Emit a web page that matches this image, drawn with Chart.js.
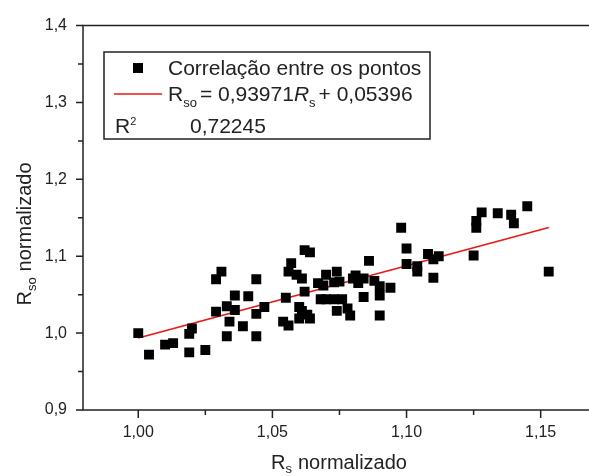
<!DOCTYPE html>
<html>
<head>
<meta charset="utf-8">
<script src="https://cdn.jsdelivr.net/npm/chart.js@4.4.1/dist/chart.umd.min.js"></script>
<style>
    body { margin: 0; background: #fff; }
    #chart { display: block; }
</style>
</head>
<body>
<canvas id="chart" width="589" height="476"></canvas>
<script>
// Rs normalizado vs Rso normalizado
const rsValues = [
    1.000, 1.004, 1.010, 1.013, 1.019, 1.020, 1.019, 1.025, 1.029, 1.031,
    1.029, 1.033, 1.033, 1.034, 1.036, 1.036, 1.039, 1.041, 1.044, 1.044,
    1.044, 1.047, 1.054, 1.056, 1.055, 1.056, 1.057, 1.059, 1.061, 1.062,
    1.064, 1.062, 1.060, 1.061, 1.063, 1.064, 1.060, 1.067, 1.069, 1.070,
    1.068, 1.070, 1.073, 1.074, 1.075, 1.074, 1.080, 1.081, 1.082, 1.084,
    1.088, 1.086, 1.090, 1.090, 1.094, 1.084, 1.076, 1.073, 1.078, 1.079,
    1.090, 1.098, 1.100, 1.100, 1.104, 1.108, 1.110, 1.104, 1.110, 1.112,
    1.125, 1.126, 1.128, 1.126, 1.134, 1.139, 1.140, 1.145, 1.153
];
const rsoValues = [
    1.000, 0.972, 0.985, 0.987, 0.999, 1.006, 0.975, 0.978, 1.070, 1.080,
    1.028, 0.996, 1.035, 1.015, 1.049, 1.030, 1.009, 1.048, 1.070, 1.025,
    0.996, 1.034, 1.015, 1.010, 1.046, 1.080, 1.091, 1.076, 1.071, 1.108,
    1.105, 1.054, 1.034, 1.029, 1.024, 1.019, 1.019, 1.065, 1.062, 1.076,
    1.044, 1.044, 1.066, 1.029, 1.067, 1.080, 1.071, 1.075, 1.065, 1.071,
    1.068, 1.094, 1.061, 1.049, 1.059, 1.047, 1.044, 1.044, 1.032, 1.023,
    1.023, 1.137, 1.110, 1.090, 1.087, 1.103, 1.096, 1.080, 1.072, 1.100,
    1.101, 1.146, 1.157, 1.137, 1.156, 1.154, 1.143, 1.165, 1.080
];

// Linear fit: Rso = 0,93971 Rs + 0,05396
const fitX = [1.000, 1.153];
const fitY = [0.99367, 1.13745];

const xTicks = [1.00, 1.05, 1.10, 1.15];
const xMinorTicks = [1.025, 1.075, 1.125];
const yTicks = [0.9, 1.0, 1.1, 1.2, 1.3, 1.4];
const yMinorTicks = [0.95, 1.05, 1.15, 1.25, 1.35];

const FONT = '"Liberation Sans", Arial, sans-serif';
const INK = '#222';

function fmt(v, digits) {
    return v.toFixed(digits).replace('.', ',');
}

// draws text pieces one after the other, returns end x
function drawRuns(ctx, runs, x, y) {
    runs.forEach(r => {
        ctx.font = (r.italic ? 'italic ' : '') + r.size + 'px ' + FONT;
        ctx.fillText(r.text, x, y + (r.dy || 0));
        x += ctx.measureText(r.text).width + (r.gap || 0);
    });
    return x;
}

function runsWidth(ctx, runs) {
    let w = 0;
    runs.forEach(r => {
        ctx.font = (r.italic ? 'italic ' : '') + r.size + 'px ' + FONT;
        w += ctx.measureText(r.text).width + (r.gap || 0);
    });
    return w;
}

const framePlugin = {
    id: 'frame',
    afterDraw(chart) {
        const ctx = chart.ctx;
        const area = chart.chartArea;
        const xs = chart.scales.x;
        const ys = chart.scales.y;
        ctx.save();
        ctx.strokeStyle = INK;
        ctx.lineWidth = 1.5;

        // box (right side falls off the canvas)
        ctx.beginPath();
        ctx.moveTo(chart.width, area.top);
        ctx.lineTo(area.left, area.top);
        ctx.lineTo(area.left, area.bottom);
        ctx.lineTo(chart.width, area.bottom);
        ctx.stroke();

        // ticks, pointing outwards
        ctx.beginPath();
        xTicks.concat(xMinorTicks).forEach(v => {
            const px = xs.getPixelForValue(v);
            const len = xMinorTicks.includes(v) ? 5 : 8;
            ctx.moveTo(px, area.bottom);
            ctx.lineTo(px, area.bottom + len);
        });
        yTicks.concat(yMinorTicks).forEach(v => {
            const py = ys.getPixelForValue(v);
            const len = yMinorTicks.includes(v) ? 5 : 7;
            ctx.moveTo(area.left, py);
            ctx.lineTo(area.left - len, py);
        });
        ctx.stroke();

        ctx.fillStyle = INK;
        ctx.textBaseline = 'alphabetic';
        ctx.textAlign = 'left';

        // x axis title
        const xRuns = [
            { text: 'R', size: 20 },
            { text: 's', size: 13, dy: 4, gap: 6 },
            { text: 'normalizado', size: 20 }
        ];
        const xw = runsWidth(ctx, xRuns);
        drawRuns(ctx, xRuns, 339 - xw / 2, 469);

        // y axis title
        const yRuns = [
            { text: 'R', size: 20 },
            { text: 'so', size: 13, dy: 5, gap: 6 },
            { text: 'normalizado', size: 20 }
        ];
        const yw = runsWidth(ctx, yRuns);
        ctx.save();
        ctx.translate(31, 234);
        ctx.rotate(-Math.PI / 2);
        drawRuns(ctx, yRuns, -yw / 2, 0);
        ctx.restore();

        // legend box
        ctx.lineWidth = 1.5;
        ctx.strokeRect(104, 52, 326, 87);
        ctx.fillStyle = '#000';
        ctx.fillRect(133, 63, 10, 10);
        ctx.strokeStyle = '#f01414';
        ctx.lineWidth = 1.5;
        ctx.beginPath();
        ctx.moveTo(114, 94);
        ctx.lineTo(162, 94);
        ctx.stroke();

        ctx.fillStyle = INK;
        drawRuns(ctx, [{ text: 'Correlação entre os pontos', size: 21 }], 168, 75);
        drawRuns(ctx, [
            { text: 'R', size: 21 },
            { text: 'so', size: 13, dy: 6, gap: 3 },
            { text: '= 0,93971', size: 21 },
            { text: 'R', size: 21, italic: true },
            { text: 's', size: 13, dy: 6, gap: 3 },
            { text: '+ 0,05396', size: 21 }
        ], 168, 101);
        drawRuns(ctx, [
            { text: 'R', size: 21 },
            { text: '2', size: 11, dy: -8 }
        ], 115, 133);
        drawRuns(ctx, [{ text: '0,72245', size: 21 }], 190, 133);
        ctx.restore();
    }
};

const points = rsValues.map((x, i) => ({ x: x, y: rsoValues[i] }));
const fitLine = fitX.map((x, i) => ({ x: x, y: fitY[i] }));

new Chart(document.getElementById('chart'), {
    type: 'scatter',
    data: {
        datasets: [{
            label: 'Correlação entre os pontos',
            data: points,
            pointStyle: 'rect',
            pointRadius: 7,
            pointBorderWidth: 0,
            backgroundColor: '#000',
            borderColor: '#000'
        }, {
            label: 'Ajuste linear',
            type: 'line',
            data: fitLine,
            borderColor: '#f01414',
            borderWidth: 1.5,
            pointRadius: 0,
            fill: false
        }]
    },
    options: {
        responsive: false,
        animation: false,
        layout: { padding: { top: 15, right: 0, left: 0, bottom: 0 } },
        plugins: {
            legend: { display: false },
            tooltip: { enabled: false }
        },
        scales: {
            x: {
                type: 'linear',
                min: 0.9794,
                max: 1.1654,
                grid: { display: false, drawTicks: false },
                border: { display: false },
                afterBuildTicks: s => { s.ticks = xTicks.map(v => ({ value: v })); },
                afterFit: s => { s.height = 66; },
                ticks: {
                    padding: 13,
                    color: INK,
                    font: { family: FONT, size: 16 },
                    callback: v => fmt(v, 2)
                }
            },
            y: {
                min: 0.9,
                max: 1.4,
                grid: { display: false, drawTicks: false },
                border: { display: false },
                afterBuildTicks: s => { s.ticks = yTicks.map(v => ({ value: v })); },
                afterFit: s => { s.width = 83; },
                ticks: {
                    padding: 16,
                    color: INK,
                    font: { family: FONT, size: 16 },
                    callback: v => fmt(v, 1)
                }
            }
        }
    },
    plugins: [framePlugin]
});
</script>
</body>
</html>
